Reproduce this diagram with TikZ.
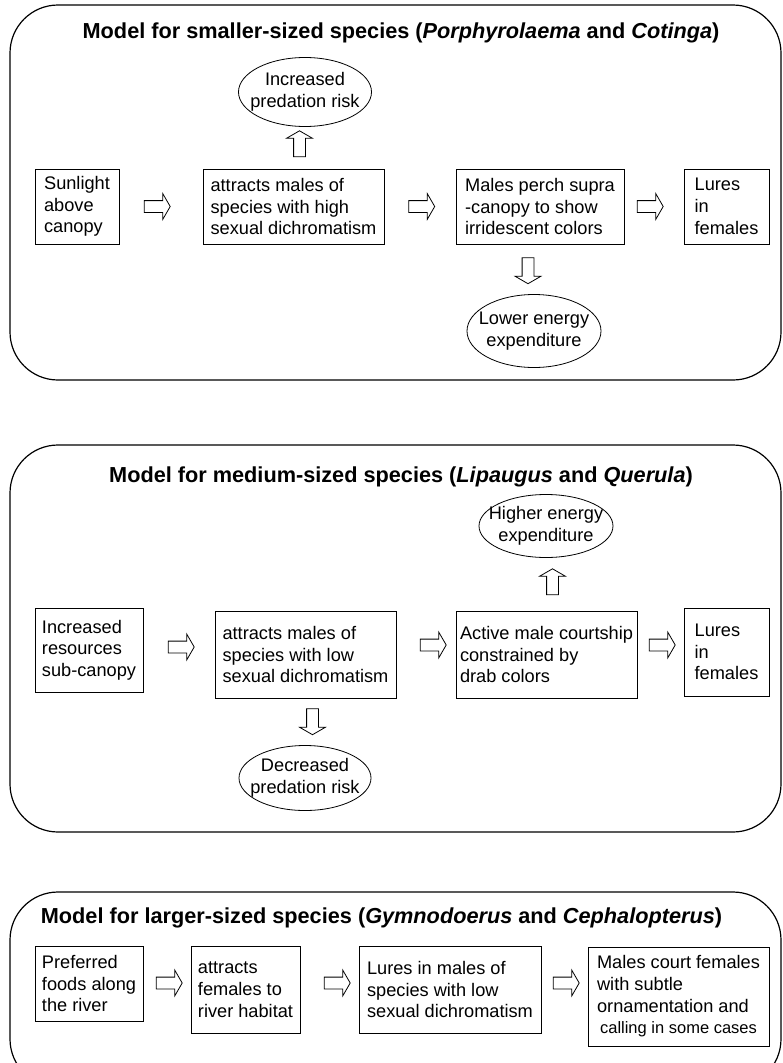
\documentclass[tikz,border=0pt]{standalone}
\usepackage{fontspec}
\setmainfont{Liberation Sans}
\usepackage{tikz}
\usetikzlibrary{calc, positioning, shapes.geometric, shapes.arrows}

\tikzset{
  panel/.style={draw, line width=1.2pt, rounded corners=48pt},
  box/.style={draw, line width=0.9pt, align=left, inner sep=4pt},
  oval/.style={draw, ellipse, line width=0.8pt, inner sep=0pt},
  fat/.style={draw, single arrow, line width=0.8pt, inner sep=5.5pt, minimum height=26pt,
    single arrow head extend=7pt, single arrow tip angle=120},
  heading/.style={anchor=base, font=\fontsize{21.7}{25}\selectfont\bfseries}
}

\begin{document}
\begin{tikzpicture}[x=1pt, y=-1pt, font=\fontsize{18.2}{21.7}\selectfont]
  \clip[use as bounding box] (0,0) rectangle (782,1063);

  \draw[panel] (10,5) rectangle (781,380);
  \node[heading] (t1) at (401,38) {Model for smaller-sized species (\textit{Porphyrolaema} and \textit{Cotinga})};
  \node[box, minimum width=84pt, minimum height=75pt] (sun) at (77,206.5) {Sunlight\\above\\canopy};
  \node[box, minimum width=181pt, minimum height=75pt] (high) at (293.5,206.5) {attracts males of\\species with high\\sexual dichromatism};
  \node[box, minimum width=168pt, minimum height=75pt] (perch) at (540,206.5) {Males perch supra\\-canopy to show\\irridescent colors};
  \node[box, minimum width=85pt, minimum height=75pt] (lure1) at (726.5,206.5) {Lures\\in\\females};
  \node[oval, minimum width=133pt, minimum height=69pt, label={[align=center]center:{Increased\\predation risk}}] (risk1) at (305,92) {};
  \node[oval, minimum width=134pt, minimum height=73pt, label={[align=center]center:{Lower energy\\expenditure}}] (cost1) at (534,331) {};
  \node[fat] (s1) at (155.5,206.5) {};
  \node[fat] (s2) at (420,206.5) {};
  \node[fat] (s3) at (648.5,206.5) {};
  \node[fat, shape border rotate=90] (s4) at (299.5,145.5) {};
  \node[fat, shape border rotate=270] (s5) at (528,269) {};

  \draw[panel] (10,445) rectangle (781,832);
  \node[heading] (t2) at (401,482) {Model for medium-sized species (\textit{Lipaugus} and \textit{Querula})};
  \node[box, minimum width=108pt, minimum height=84pt] (res) at (89,650) {Increased\\resources\\sub-canopy};
  \node[box, minimum width=181pt, minimum height=87pt] (low) at (305.5,654.5) {attracts males of\\species with low\\sexual dichromatism};
  \node[box, inner xsep=1pt, minimum width=181pt, minimum height=87pt] (court) at (546.5,654.5) {Active male courtship\\constrained by\\drab colors};
  \node[box, minimum width=85pt, minimum height=88pt] (lure2) at (726.5,652) {Lures\\in\\females};
  \node[oval, minimum width=134pt, minimum height=63pt, label={[align=center]center:{Higher energy\\expenditure}}] (cost2) at (546,526) {};
  \node[oval, minimum width=132pt, minimum height=65pt, label={[align=center]center:{Decreased\\predation risk}}] (risk2) at (305,778) {};
  \node[fat] (m1) at (179.5,647) {};
  \node[fat] (m2) at (431.5,645) {};
  \node[fat] (m3) at (660.5,645) {};
  \node[fat, shape border rotate=90] (m4) at (552.5,583.5) {};
  \node[fat, shape border rotate=270] (m5) at (312.5,720) {};

  \draw[panel] (10,892) rectangle (781,1087);
  \node[heading] (t3) at (381.5,923) {Model for larger-sized species (\textit{Gymnodoerus} and \textit{Cephalopterus})};
  \node[box, minimum width=108pt, minimum height=75pt] (food) at (89,983.5) {Preferred\\foods along\\the river};
  \node[box, minimum width=109pt, minimum height=87pt] (river) at (245.5,989.5) {attracts\\females to\\river habitat};
  \node[box, minimum width=182pt, minimum height=87pt] (lure3) at (450,989.5) {Lures in males of\\species with low\\sexual dichromatism};
  \node[box, minimum width=181pt, minimum height=99pt] (subtle) at (678.5,996.5) {Males court females\\with subtle\\ornamentation and\\\hspace{3pt}{\fontsize{16.5}{19}\selectfont calling in some cases}};
  \node[fat] (l1) at (167.5,983) {};
  \node[fat] (l2) at (335.5,983) {};
  \node[fat] (l3) at (564.5,983) {};
\end{tikzpicture}
\end{document}
